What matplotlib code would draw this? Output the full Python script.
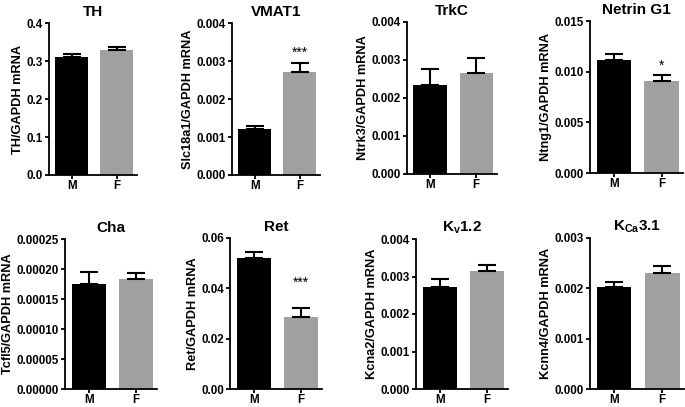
import matplotlib
matplotlib.use("Agg")
import matplotlib.pyplot as plt
from matplotlib.ticker import FormatStrFormatter

plt.rcParams['font.family'] = ['Liberation Sans', 'DejaVu Sans']
plt.rcParams['font.weight'] = 'bold'
plt.rcParams['mathtext.fontset'] = 'custom'
plt.rcParams['mathtext.rm'] = 'Liberation Sans:bold'
plt.rcParams['mathtext.bf'] = 'Liberation Sans:bold'
plt.rcParams['mathtext.it'] = 'Liberation Sans:bold'
plt.rcParams['mathtext.default'] = 'bf'

groups = ["M", "F"]

titles = ["TH", "VMAT1", "TrkC", "Netrin G1",
          "Cha", "Ret", r"K$_{v}$1.2", r"K$_{Ca}$3.1"]
ylabels = ["TH/GAPDH mRNA", "Slc18a1/GAPDH mRNA", "Ntrk3/GAPDH mRNA", "Ntng1/GAPDH mRNA",
           "Tcfl5/GAPDH mRNA", "Ret/GAPDH mRNA", "Kcna2/GAPDH mRNA", "Kcnn4/GAPDH mRNA"]

th_mean = [0.311, 0.330];        th_sem = [0.007, 0.007]
vmat1_mean = [0.00120, 0.00270]; vmat1_sem = [0.00009, 0.00024]
trkc_mean = [0.00235, 0.00265];  trkc_sem = [0.00040, 0.00040]
ntng_mean = [0.0112, 0.0091];    ntng_sem = [0.0005, 0.0006]
cha_mean = [0.000175, 0.000183]; cha_sem = [0.000020, 0.000010]
ret_mean = [0.0520, 0.0285];     ret_sem = [0.0024, 0.0037]
kv_mean = [0.00273, 0.00314];    kv_sem = [0.00020, 0.00018]
kca_mean = [0.00202, 0.00230];   kca_sem = [0.00010, 0.00014]

means = [th_mean, vmat1_mean, trkc_mean, ntng_mean, cha_mean, ret_mean, kv_mean, kca_mean]
sems = [th_sem, vmat1_sem, trkc_sem, ntng_sem, cha_sem, ret_sem, kv_sem, kca_sem]
stars = ["", "***", "", "*", "", "***", "", ""]
star_y = [None, 0.00331, None, 0.01095, None, 0.0438, None, None]

yticks = [
    [0.0, 0.1, 0.2, 0.3, 0.4],
    [0.000, 0.001, 0.002, 0.003, 0.004],
    [0.000, 0.001, 0.002, 0.003, 0.004],
    [0.000, 0.005, 0.010, 0.015],
    [0.0, 0.00005, 0.00010, 0.00015, 0.00020, 0.00025],
    [0.00, 0.02, 0.04, 0.06],
    [0.000, 0.001, 0.002, 0.003, 0.004],
    [0.000, 0.001, 0.002, 0.003],
]
fmts = ['%.1f', '%.3f', '%.3f', '%.3f', '%.5f', '%.2f', '%.3f', '%.3f']

W, H = 685, 407
fig = plt.figure(figsize=(W / 100, H / 100), dpi=100)

# axes boxes in pixels: (left, right, top, bottom)
boxes = [
    (49, 137, 23, 175), (232, 320, 23, 175), (407, 497, 22, 174), (590, 683, 21, 173),
    (65, 157, 239, 389), (230, 322, 238, 389), (416, 508, 239, 389), (590, 684, 238, 389),
]

colors = ['black', '#a0a0a0']

for i in range(8):
    l, r, t, b = boxes[i]
    ax = fig.add_axes([l / W, 1 - b / H, (r - l) / W, (b - t) / H])
    x = [0, 1]
    ax.bar(x, means[i], width=0.72, color=colors, edgecolor='none', zorder=2)
    for j in range(2):
        ax.errorbar(x[j], means[i][j], yerr=[[0], [sems[i][j]]], fmt='none',
                    ecolor='black', elinewidth=1.5, capsize=6.5, capthick=1.5, zorder=3)
    ax.set_xlim(-0.5, 1.45)
    ax.set_ylim(yticks[i][0], yticks[i][-1])
    ax.set_yticks(yticks[i])
    ax.yaxis.set_major_formatter(FormatStrFormatter(fmts[i]))
    ax.set_xticks(x)
    ax.set_xticklabels(groups)
    for s in ['top', 'right']:
        ax.spines[s].set_visible(False)
    for s in ['left', 'bottom']:
        ax.spines[s].set_linewidth(1.3)
    ax.tick_params(axis='both', direction='out', length=3.2, width=1.3, labelsize=8.4, pad=1)
    ax.tick_params(axis='x', pad=0.5)
    ax.set_ylabel(ylabels[i], fontsize=9.2, fontweight='bold', labelpad=2)
    ax.set_title(titles[i], fontsize=11, fontweight='bold', pad=5)
    if stars[i]:
        ax.annotate(stars[i], (1, star_y[i]), xytext=(0, -5.5), textcoords='offset points',
                    ha='center', va='baseline', fontsize=10, fontweight='normal')

fig.savefig("out.png", dpi=100)
